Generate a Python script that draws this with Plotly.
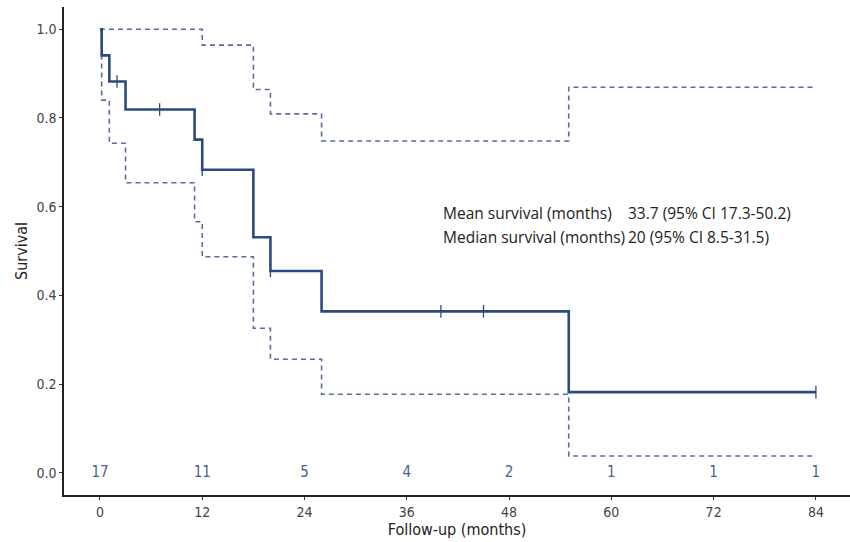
import plotly.graph_objects as go

# Kaplan-Meier estimate (step function)
km_time = [0, 0.2, 1.1, 3, 11.1, 12, 18, 20, 26, 55, 84]
km_surv = [1.0, 0.941, 0.882, 0.819, 0.751, 0.683, 0.531, 0.455, 0.364, 0.182, 0.182]

# 95% confidence band
ci_upper_time = [0, 12, 18, 20, 26, 55, 84]
ci_upper = [1.0, 0.964, 0.864, 0.809, 0.748, 0.869, 0.869]
ci_lower_time = [0, 0.2, 1.1, 3, 11.1, 12, 18, 20, 26, 55, 84]
ci_lower = [1.0, 0.84, 0.743, 0.654, 0.566, 0.487, 0.326, 0.256, 0.177, 0.038, 0.038]

# censored observations
censor_time = [2, 7, 12, 20, 40, 45, 84]
censor_surv = [0.882, 0.819, 0.683, 0.455, 0.364, 0.364, 0.182]

# numbers at risk
risk_time = [0, 12, 24, 36, 48, 60, 72, 84]
risk_n = [17, 11, 5, 4, 2, 1, 1, 1]

x_ticks = [0, 12, 24, 36, 48, 60, 72, 84]
y_ticks = [0.0, 0.2, 0.4, 0.6, 0.8, 1.0]

stats_labels = ["Mean survival (months)", "Median survival (months)"]
stats_values = ["33.7 (95% CI 17.3-50.2)", "20 (95% CI 8.5-31.5)"]

SOLID = "#2c4a7e"
DASH = "#5a6d9c"
RISK = "#4b5e8e"
NARROW = "Liberation Sans Narrow, Arial Narrow, DejaVu Sans Condensed, Liberation Sans, sans-serif"

fig = go.Figure()
fig.add_trace(go.Scatter(x=ci_upper_time, y=ci_upper, mode="lines", line_shape="hv",
                         line=dict(color=DASH, width=1.6, dash="5px,4px"), showlegend=False))
fig.add_trace(go.Scatter(x=ci_lower_time, y=ci_lower, mode="lines", line_shape="hv",
                         line=dict(color=DASH, width=1.6, dash="5px,4px"), showlegend=False))
fig.add_trace(go.Scatter(x=km_time, y=km_surv, mode="lines", line_shape="hv",
                         line=dict(color=SOLID, width=2.6), showlegend=False))
fig.add_trace(go.Scatter(x=censor_time, y=censor_surv, mode="markers",
                         marker=dict(symbol="line-ns", size=9, line=dict(color=SOLID, width=1.3)),
                         showlegend=False))
fig.add_trace(go.Scatter(x=risk_time, y=[0.0] * len(risk_time), mode="text",
                         text=[str(v) for v in risk_n],
                         textfont=dict(family=NARROW, size=15, color=RISK), showlegend=False))

for i, (lab, val) in enumerate(zip(stats_labels, stats_values)):
    yv = 0.586 - i * 0.054
    fig.add_annotation(x=40.0, y=yv, text=lab, showarrow=False, xanchor="left",
                       font=dict(family="Open Sans", size=15.5, color="#222"))
    fig.add_annotation(x=61.7, y=yv, text=val, showarrow=False, xanchor="left",
                       font=dict(family="Open Sans", size=15.5, color="#222"))

fig.update_layout(
    width=850, height=542,
    margin=dict(l=64, r=0, t=7, b=47),
    paper_bgcolor="white", plot_bgcolor="white",
    font=dict(family=NARROW, size=14, color="#444"),
)
fig.update_xaxes(range=[-4.22, 88.0], tickvals=x_ticks, ticktext=[str(t) for t in x_ticks],
                 showgrid=False, zeroline=False, showline=True, linecolor="#222", linewidth=1.5,
                 ticks="outside", ticklen=3, tickcolor="#333", tickwidth=1.2,
                 tickfont=dict(size=14, color="#444"),
                 title=dict(text="Follow-up (months)", font=dict(size=16, color="#222"), standoff=0))
fig.update_yaxes(range=[-0.05, 1.05], tickvals=y_ticks, ticktext=["%.1f" % t for t in y_ticks],
                 showgrid=False, zeroline=False, showline=True, linecolor="#222", linewidth=1.5,
                 ticks="outside", ticklen=3, tickcolor="#333", tickwidth=1.2,
                 tickfont=dict(size=14, color="#444"),
                 title=dict(text="Survival", font=dict(size=16, color="#222"), standoff=5))

fig.write_html("out.html", config={"displayModeBar": False},
               post_script="document.body.style.margin='0';")
